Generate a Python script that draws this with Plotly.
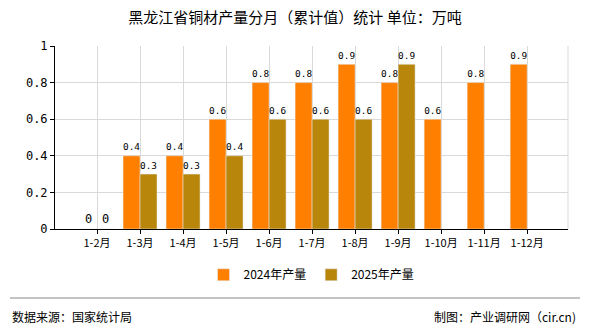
import plotly.graph_objects as go

categories = ["1-2月", "1-3月", "1-4月", "1-5月", "1-6月", "1-7月", "1-8月", "1-9月", "1-10月", "1-11月", "1-12月"]
values_2024 = [0, 0.4, 0.4, 0.6, 0.8, 0.8, 0.9, 0.8, 0.6, 0.8, 0.9]
values_2025 = [0, 0.3, 0.3, 0.4, 0.6, 0.6, 0.6, 0.9, None, None, None]
y_ticks = [0, 0.2, 0.4, 0.6, 0.8, 1]
y_ticktext = ["0", "0.2", "0.4", "0.6", "0.8", "1"]

FONT = "Noto Sans CJK SC"
xs = list(range(len(categories)))

fig = go.Figure()
fig.add_trace(go.Bar(
    x=xs, y=values_2024, name="2024年产量", marker_color="#FF8000",
    text=[("" if v is None else f"{v:g}") for v in values_2024],
    textposition="outside", textfont=dict(size=12, color="#000", family="DejaVu Sans Mono"),
    cliponaxis=False,
))
fig.add_trace(go.Bar(
    x=xs, y=values_2025, name="2025年产量", marker_color="#B8860B",
    text=[("" if v is None else f"{v:g}") for v in values_2025],
    textposition="outside", textfont=dict(size=12, color="#000", family="DejaVu Sans Mono"),
    cliponaxis=False,
))

fig.update_layout(
    width=590, height=330,
    margin=dict(l=55, r=22, t=46, b=101),
    paper_bgcolor="white", plot_bgcolor="white",
    barmode="group", bargap=0.21, bargroupgap=0,
    title=dict(text="黑龙江省铜材产量分月（累计值）统计 单位：万吨", x=0.5, xanchor="center",
               y=0.945, yanchor="middle", font=dict(size=15, color="#000", family=FONT)),
    font=dict(family=FONT, size=11, color="#000"),
    showlegend=True,
    legend=dict(orientation="h", x=0.5, xanchor="center", y=-0.25, yanchor="middle",
                font=dict(size=12, color="#000", family=FONT), itemwidth=30,
                traceorder="normal"),
    uniformtext=dict(mode=False),
)
fig.update_xaxes(
    range=[-0.977, 10.95], tickmode="array", tickvals=xs, ticktext=categories,
    showgrid=True, gridcolor="#d9d9d9", gridwidth=1,
    showline=True, linecolor="#000", linewidth=1,
    ticks="outside", ticklen=4, tickcolor="#000",
    tickfont=dict(size=11, color="#000", family=FONT), zeroline=False,
)
fig.update_yaxes(
    range=[0, 1], tickmode="array", tickvals=y_ticks, ticktext=y_ticktext,
    showgrid=True, gridcolor="#d9d9d9", gridwidth=1,
    showline=True, linecolor="#000", linewidth=1,
    ticks="outside", ticklen=4, tickcolor="#000",
    tickfont=dict(size=12, color="#000", family="DejaVu Sans Mono"), zeroline=False,
)
# right border of plot area
fig.add_shape(type="line", xref="paper", yref="paper", x0=1, x1=1, y0=0, y1=1,
              line=dict(color="#d9d9d9", width=1))
# footer separator line
fig.add_shape(type="line", xref="paper", yref="paper", x0=-45/513, x1=(580-55)/513,
              y0=-(298-229)/183, y1=-(298-229)/183, line=dict(color="#888", width=1))
fig.add_annotation(text="数据来源：国家统计局", xref="paper", yref="paper",
                   x=-45/513, xanchor="left", y=-(316-229)/183, yanchor="middle",
                   showarrow=False, font=dict(size=12, color="#000", family=FONT))
fig.add_annotation(text="制图：产业调研网（cir.cn)", xref="paper", yref="paper",
                   x=(578-55)/513, xanchor="right", y=-(316-229)/183, yanchor="middle",
                   showarrow=False, font=dict(size=12, color="#000", family=FONT))

fig.write_html("out.html")
